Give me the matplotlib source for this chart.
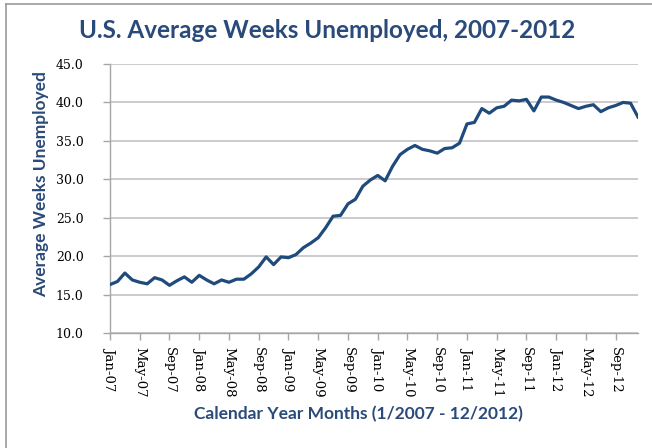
import matplotlib.pyplot as plt
from matplotlib.lines import Line2D

# average weeks unemployed, monthly, Jan 2007 - Dec 2012
weeks_2007 = [16.3, 16.7, 17.8, 16.9, 16.6, 16.4, 17.2, 16.9, 16.2, 16.8, 17.3, 16.6]
weeks_2008 = [17.5, 16.9, 16.4, 16.9, 16.6, 17.0, 17.0, 17.7, 18.6, 19.9, 18.9, 19.9]
weeks_2009 = [19.8, 20.2, 21.1, 21.7, 22.4, 23.7, 25.2, 25.3, 26.8, 27.4, 29.1, 29.9]
weeks_2010 = [30.5, 29.8, 31.7, 33.2, 33.9, 34.4, 33.9, 33.7, 33.4, 34.0, 34.1, 34.7]
weeks_2011 = [37.2, 37.4, 39.2, 38.6, 39.3, 39.5, 40.3, 40.2, 40.4, 38.9, 40.7, 40.7]
weeks_2012 = [40.3, 40.0, 39.6, 39.2, 39.5, 39.7, 38.8, 39.3, 39.6, 40.0, 39.9, 38.1]

months = ["Jan", "Feb", "Mar", "Apr", "May", "Jun",
          "Jul", "Aug", "Sep", "Oct", "Nov", "Dec"]
years = ["07", "08", "09", "10", "11", "12"]
month_labels = [m + "-" + y for y in years for m in months]

weeks = weeks_2007 + weeks_2008 + weeks_2009 + weeks_2010 + weeks_2011 + weeks_2012
x = list(range(len(weeks)))

blue = '#1f4a7c'
text_blue = '#2a4a7a'
grey = '#bdbdbd'

fig = plt.figure(figsize=(6.52, 4.48), dpi=100)
ax = fig.add_axes([110 / 652, 115 / 448, 528 / 652, 269 / 448])

ax.plot(x, weeks, color=blue, linewidth=2.3, solid_joinstyle='round', zorder=3)

ax.set_xlim(0, len(weeks) - 1)
ax.set_ylim(10, 45)
ax.set_yticks(range(10, 46, 5))
ax.set_yticklabels(["%.1f" % v for v in range(10, 46, 5)],
                   fontsize=9, family='DejaVu Serif')
ax.set_xticks(x[::4])
ax.set_xticklabels(month_labels[::4], rotation=-90, fontsize=9.5,
                   family='DejaVu Serif')

ax.grid(axis='y', color=grey, linewidth=1.1)
ax.set_axisbelow(True)
for side in ['top', 'right']:
    ax.spines[side].set_visible(False)
for side in ['left', 'bottom']:
    ax.spines[side].set_color('#a6a6a6')
    ax.spines[side].set_linewidth(1.0)
ax.tick_params(axis='both', colors='#a6a6a6', length=5, width=1.0,
               labelcolor='black')
ax.tick_params(axis='x', pad=5)
ax.tick_params(axis='y', pad=14)

fig.text(327 / 652, 1 - 30 / 448, "U.S. Average Weeks Unemployed, 2007-2012",
         ha='center', va='center', fontsize=17.5, fontweight='bold',
         color=text_blue, family='Lato')
fig.text(41 / 652, 1 - 184 / 448, "Average Weeks Unemployed",
         ha='center', va='center', rotation=90, fontsize=12.5,
         fontweight='bold', color=text_blue, family='Lato')
fig.text(358 / 652, 1 - 414 / 448, "Calendar Year Months (1/2007 - 12/2012)",
         ha='center', va='center', fontsize=12.5, fontweight='bold',
         color=text_blue, family='Lato')

# outer chart frame (left and top edges)
fig.add_artist(Line2D([6 / 652, 6 / 652], [0, 1 - 4 / 448],
                      transform=fig.transFigure, color='#9a9a9a', linewidth=1.2))
fig.add_artist(Line2D([6 / 652, 1], [1 - 4 / 448, 1 - 4 / 448],
                      transform=fig.transFigure, color='#9a9a9a', linewidth=1.2))

fig.savefig('out.png', dpi=100)
